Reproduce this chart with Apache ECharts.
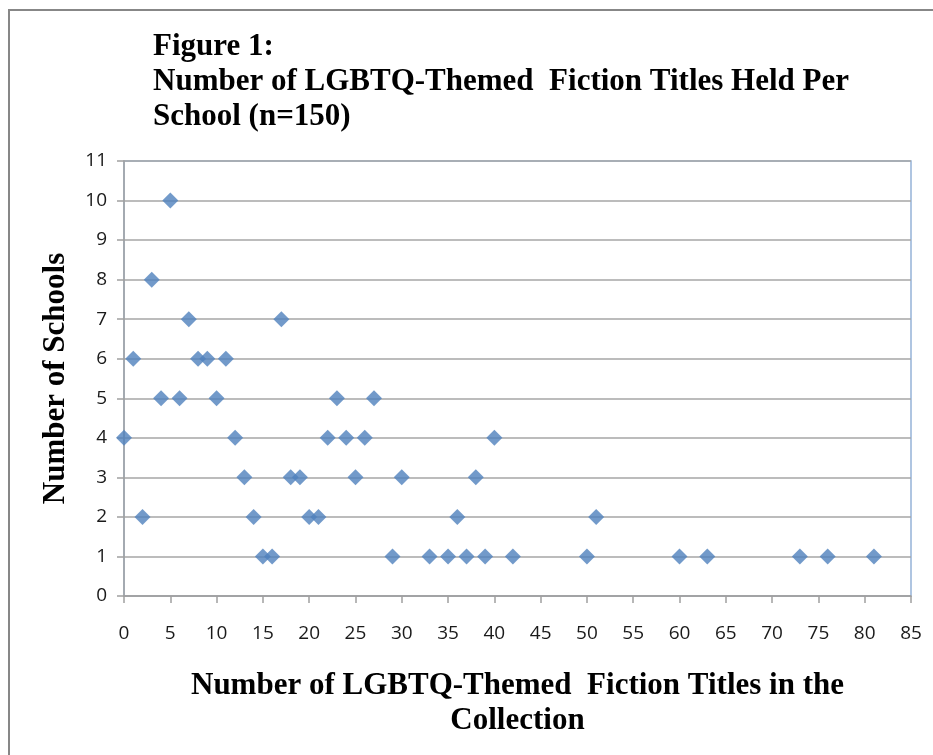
<!DOCTYPE html>
<html>
    <head>
        <meta charset="utf-8"/>
        <title>Figure 1</title>
        <script src="https://cdn.jsdelivr.net/npm/echarts@6/dist/echarts.min.js"></script>
        <style>
            html, body { margin: 0; padding: 0; background: #fff; }
        </style>
    </head>
    <body>
        <div id="main" style="width: 933px;height:755px;"></div>

        <script type="text/javascript">
            // titles held in the collection (x) and number of schools (y)
            var titlesHeld = [0, 1, 2, 3, 4, 5, 6, 7, 8, 9, 10, 11, 12, 13, 14, 15, 16, 17, 18, 19, 20,
                21, 22, 23, 24, 25, 26, 27, 29, 30, 33, 35, 36, 37, 38, 39, 40, 42, 50, 51, 60, 63, 73, 76, 81];
            var schools = [4, 6, 2, 8, 5, 10, 5, 7, 6, 6, 5, 6, 4, 3, 2, 1, 1, 7, 3, 3, 2,
                2, 4, 5, 4, 3, 4, 5, 1, 3, 1, 1, 2, 1, 3, 1, 4, 1, 1, 2, 1, 1, 1, 1, 1];

            var titleText = 'Figure 1:\nNumber of LGBTQ-Themed  Fiction Titles Held Per\nSchool (n=150)';
            var xName = 'Number of LGBTQ-Themed  Fiction Titles in the\nCollection';
            var yName = 'Number of Schools';

            var points = titlesHeld.map(function (x, i) {
                return [x, schools[i]];
            });

            var chartDom = document.getElementById('main');
            var myChart = echarts.init(chartDom);
            var serif = '"Liberation Serif", "Times New Roman", serif';
            var sans = '"Open Sans", "Noto Sans", sans-serif';

            var option = {
                animation: false,
                backgroundColor: '#fff',
                graphic: [{
                    // outer chart frame
                    type: 'rect',
                    shape: { x: 9, y: 10, width: 940, height: 760 },
                    style: { fill: 'none', stroke: '#878787', lineWidth: 2 },
                    silent: true
                }],
                title: {
                    text: titleText,
                    left: 148,
                    top: 24,
                    textStyle: {
                        fontFamily: serif,
                        fontWeight: 'bold',
                        fontSize: 31,
                        lineHeight: 35,
                        color: '#000'
                    }
                },
                grid: {
                    left: 124,
                    right: 22,
                    top: 161,
                    bottom: 159,
                    show: true,
                    borderColor: '#95B3D7',
                    borderWidth: 1.5
                },
                xAxis: {
                    type: 'value',
                    min: 0,
                    max: 85,
                    interval: 5,
                    name: xName,
                    nameLocation: 'middle',
                    nameGap: 72,
                    nameTextStyle: {
                        fontFamily: serif,
                        fontWeight: 'bold',
                        fontSize: 31,
                        lineHeight: 35,
                        color: '#000'
                    },
                    axisLine: { show: true, lineStyle: { color: '#A0A0A0', width: 1.5 } },
                    axisTick: { show: true, length: 7, lineStyle: { color: '#A0A0A0', width: 1.5 } },
                    axisLabel: { fontFamily: sans, fontSize: 19, color: '#1a1a1a', margin: 28 },
                    splitLine: { show: false }
                },
                yAxis: {
                    type: 'value',
                    min: 0,
                    max: 11,
                    interval: 1,
                    name: yName,
                    nameLocation: 'middle',
                    nameGap: 53,
                    nameTextStyle: {
                        fontFamily: serif,
                        fontWeight: 'bold',
                        fontSize: 31,
                        color: '#000'
                    },
                    axisLine: { show: true, lineStyle: { color: '#A0A0A0', width: 1.5 } },
                    axisTick: { show: true, length: 7, lineStyle: { color: '#A0A0A0', width: 1.5 } },
                    axisLabel: { fontFamily: sans, fontSize: 19, color: '#1a1a1a', margin: 17 },
                    splitLine: { show: true, lineStyle: { color: '#A6A6A6', width: 1.5 } }
                },
                series: [{
                    type: 'scatter',
                    data: points,
                    symbol: 'diamond',
                    symbolSize: [16, 16],
                    itemStyle: { color: '#4F81BD' }
                }]
            };

            myChart.setOption(option);
        </script>
    </body>
</html>
